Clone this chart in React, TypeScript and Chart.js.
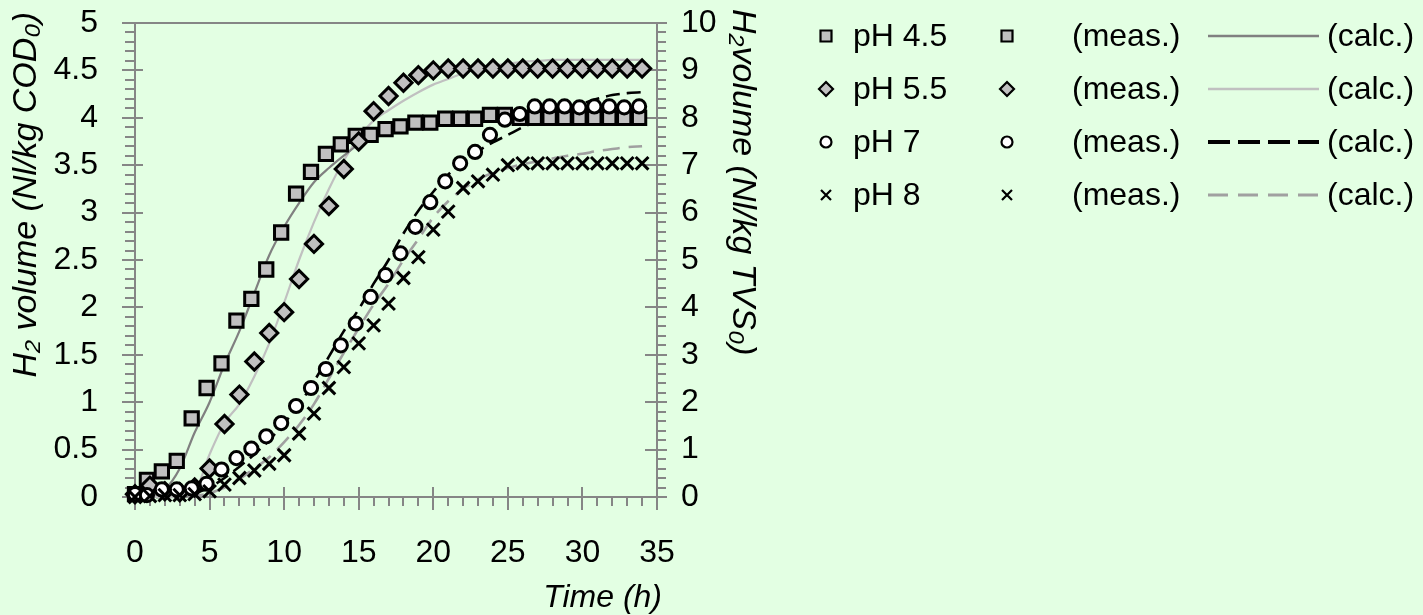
import React, { useEffect, useRef } from "react";
import { Chart, registerables } from "chart.js";

Chart.register(...registerables);

// ---------- data ----------
const seriesLabels = ["pH 4.5", "pH 5.5", "pH 7", "pH 8"];
const measLabel = "(meas.)";
const calcLabel = "(calc.)";

// sampling times (h)
const timesA = [0, 0.8, 1.8, 2.8, 3.8, 4.8, 5.8, 6.8, 7.8, 8.8, 9.8, 10.8, 11.8, 12.8, 13.8, 14.8, 15.8, 16.8, 17.8, 18.8, 19.8, 20.8, 21.8, 22.8, 23.8, 24.8, 25.8, 26.8, 27.8, 28.8, 29.8, 30.8, 31.8, 32.8, 33.8];
const timesB = [0, 1, 2, 3, 4, 5, 6, 7, 8, 9, 10, 11, 12, 13, 14, 15, 16, 17, 18, 19, 20, 21, 22, 23, 24, 25, 26, 27, 28, 29, 30, 31, 32, 33, 34];
const calcTimes = [0, 1, 2, 3, 4, 5, 6, 7, 8, 9, 10, 11, 12, 13, 14, 15, 16, 17, 18, 19, 20, 21, 22, 23, 24, 25, 26, 27, 28, 29, 30, 31, 32, 33, 34];

// measured H2 volume (Nl/kg COD0)
const ph45Meas = [0.03, 0.18, 0.27, 0.38, 0.83, 1.15, 1.41, 1.86, 2.09, 2.40, 2.79, 3.20, 3.43, 3.62, 3.72, 3.81, 3.82, 3.88, 3.91, 3.95, 3.95, 3.99, 3.99, 3.99, 4.03, 4.03, 4.0, 4.0, 4.0, 4.0, 4.0, 4.0, 4.0, 4.0, 4.0];
const ph55Meas = [0.03, 0.12, 0.06, 0.05, 0.10, 0.30, 0.77, 1.08, 1.43, 1.73, 1.95, 2.30, 2.67, 3.07, 3.46, 3.75, 4.07, 4.23, 4.37, 4.45, 4.50, 4.52, 4.52, 4.52, 4.52, 4.52, 4.52, 4.52, 4.52, 4.52, 4.52, 4.52, 4.52, 4.52, 4.52];
const ph7Meas = [0.03, 0.02, 0.08, 0.08, 0.09, 0.14, 0.29, 0.41, 0.51, 0.64, 0.78, 0.96, 1.15, 1.35, 1.60, 1.83, 2.11, 2.34, 2.57, 2.85, 3.11, 3.33, 3.52, 3.64, 3.82, 3.98, 4.04, 4.12, 4.12, 4.12, 4.11, 4.12, 4.12, 4.11, 4.12];
const ph8Meas = [0.0, 0.01, 0.02, 0.02, 0.03, 0.06, 0.13, 0.20, 0.28, 0.35, 0.44, 0.67, 0.88, 1.15, 1.37, 1.62, 1.81, 2.04, 2.31, 2.53, 2.82, 3.01, 3.26, 3.33, 3.40, 3.50, 3.52, 3.52, 3.52, 3.52, 3.52, 3.52, 3.52, 3.52, 3.52];

// calculated curves
const ph45Calc = [0, 0.01, 0.08, 0.3, 0.68, 1.0, 1.4, 1.75, 2.15, 2.55, 2.85, 3.1, 3.32, 3.47, 3.6, 3.72, 3.8, 3.86, 3.9, 3.93, 3.95, 3.97, 3.98, 3.99, 4.0, 4.0, 4.0, 4.0, 4.0, 4.0, 4.0, 4.0, 4.0, 4.0, 4.0];
const ph55Calc = [0, 0, 0, 0.01, 0.06, 0.45, 0.78, 0.98, 1.27, 1.62, 2.05, 2.5, 2.9, 3.25, 3.55, 3.79, 3.97, 4.08, 4.18, 4.27, 4.35, 4.41, 4.47, 4.52, 4.55, 4.57, 4.59, 4.6, 4.61, 4.61, 4.61, 4.61, 4.61, 4.61, 4.61];
const ph7Calc = [0, 0, 0, 0.01, 0.04, 0.1, 0.2, 0.32, 0.45, 0.6, 0.78, 0.97, 1.22, 1.48, 1.75, 1.98, 2.25, 2.5, 2.78, 3.02, 3.22, 3.4, 3.54, 3.65, 3.74, 3.82, 3.9, 3.97, 4.04, 4.1, 4.15, 4.2, 4.24, 4.26, 4.27];
const ph8Calc = [0, 0, 0, 0, 0.01, 0.04, 0.1, 0.19, 0.3, 0.42, 0.58, 0.76, 0.98, 1.25, 1.52, 1.78, 2.03, 2.25, 2.5, 2.72, 2.95, 3.12, 3.25, 3.35, 3.42, 3.47, 3.51, 3.54, 3.57, 3.6, 3.62, 3.65, 3.67, 3.69, 3.7];

const xTitle = "Time (h)";
const yTitle = "H\u2082 volume (Nl/kg COD\u2080)";
const y2Title = "H\u2082volume (Nl/kg TVS\u2080)";

// ---------- styles ----------
const BG = "#e3ffe3";
const AXIS = "#868686";
const SILVER = "#c0c0c0";
const DARK_LINE = "#808080";
const LIGHT_LINE = "#c0c0c0";
const GRAY_DASH = "#a0a0a0";
const FONT = "'Liberation Sans', Arial, Helvetica, sans-serif";

const markerStyles = ["rect", "rectRot", "circle", "crossRot"];
const markerFills = [SILVER, SILVER, "#ffffff", "#000000"];
const markerRadius = [9.4, 8.6, 6.6, 9];
const lineColors = [DARK_LINE, LIGHT_LINE, "#000000", GRAY_DASH];
const lineDashes: number[][] = [[], [], [14, 7], [17, 9]];
const lineWidths = [2.2, 2.2, 2.6, 2.6];
const legendDashes: number[][] = [[], [], [22, 8], [20, 10]];
const legendWidths = [2.6, 2.6, 4, 3.2];

const toPts = (xs: number[], ys: number[]) => ys.map((v, i) => ({ x: xs[i], y: v }));
const fmt = (v: any) => String(Math.round(Number(v) * 10) / 10);

const bgPlugin = {
  id: "bgFill",
  beforeDraw(chart: any) {
    const { ctx, width, height } = chart;
    ctx.save();
    ctx.fillStyle = BG;
    ctx.fillRect(0, 0, width, height);
    ctx.restore();
  },
};

const axesPlugin = {
  id: "excelAxes",
  beforeDatasetsDraw(chart: any) {
    const { ctx, chartArea, scales } = chart;
    const { left, right, top, bottom } = chartArea;
    const sx = scales.x, sy = scales.y, sy2 = scales.y2;
    ctx.save();
    ctx.strokeStyle = AXIS;
    ctx.lineWidth = 2;
    const seg = (x1: number, y1: number, x2: number, y2: number) => {
      ctx.beginPath();
      ctx.moveTo(x1, y1);
      ctx.lineTo(x2, y2);
      ctx.stroke();
    };
    seg(left, top, right, top);
    seg(left, top - 1, left, bottom + 1);
    seg(right, top - 1, right, bottom + 1);
    seg(left - 1, bottom, right + 1, bottom);
    for (let i = 0; i <= 50; i++) {
      const py = Math.round(sy.getPixelForValue(i / 10));
      if (i % 5 === 0) seg(left - 13, py, left + 8, py);
      else seg(left - 10, py, left, py);
    }
    for (let i = 0; i <= 50; i++) {
      const py = Math.round(sy2.getPixelForValue(i / 5));
      if (i % 5 === 0) seg(right - 12, py, right + 10, py);
      else seg(right, py, right + 9, py);
    }
    for (let i = 0; i <= 35; i++) {
      const px = Math.round(sx.getPixelForValue(i));
      if (i % 5 === 0) seg(px, bottom - 10, px, bottom + 13);
      else seg(px, bottom, px, bottom + 9);
    }
    ctx.restore();
  },
};

function drawMarker(ctx: CanvasRenderingContext2D, kind: number, x: number, y: number) {
  ctx.save();
  ctx.lineWidth = 2.2;
  ctx.strokeStyle = "#000";
  ctx.fillStyle = markerFills[kind];
  ctx.beginPath();
  if (kind === 0) {
    ctx.rect(x - 5.5, y - 5.5, 11, 11);
    ctx.fill();
    ctx.stroke();
  } else if (kind === 1) {
    ctx.moveTo(x - 7, y);
    ctx.lineTo(x, y - 7);
    ctx.lineTo(x + 7, y);
    ctx.lineTo(x, y + 7);
    ctx.closePath();
    ctx.fill();
    ctx.stroke();
  } else if (kind === 2) {
    ctx.arc(x, y, 5.5, 0, Math.PI * 2);
    ctx.fill();
    ctx.stroke();
  } else {
    ctx.moveTo(x - 5, y - 5);
    ctx.lineTo(x + 5, y + 5);
    ctx.moveTo(x + 5, y - 5);
    ctx.lineTo(x - 5, y + 5);
    ctx.stroke();
  }
  ctx.restore();
}

const legendPlugin = {
  id: "excelLegend",
  afterDraw(chart: any) {
    const ctx: CanvasRenderingContext2D = chart.ctx;
    const rowY = [36, 89, 142, 195];
    ctx.save();
    ctx.font = `32px ${FONT}`;
    ctx.fillStyle = "#000";
    ctx.textBaseline = "middle";
    ctx.textAlign = "left";
    seriesLabels.forEach((lab, k) => {
      const y = rowY[k];
      drawMarker(ctx, k, 826, y);
      ctx.fillText(lab, 853, y + 1);
      drawMarker(ctx, k, 1007, y);
      ctx.fillText(measLabel, 1072, y + 1);
      ctx.save();
      ctx.strokeStyle = lineColors[k];
      ctx.lineWidth = legendWidths[k];
      ctx.setLineDash(legendDashes[k]);
      ctx.beginPath();
      ctx.moveTo(1208, y);
      ctx.lineTo(1319, y);
      ctx.stroke();
      ctx.restore();
      ctx.fillText(calcLabel, 1327, y + 1);
    });
    ctx.restore();
  },
};

const titlesPlugin = {
  id: "axisTitles",
  afterDraw(chart: any) {
    const ctx: CanvasRenderingContext2D = chart.ctx;
    ctx.save();
    ctx.fillStyle = "#000";
    ctx.font = `italic 34px ${FONT}`;
    ctx.textBaseline = "middle";
    // left
    ctx.save();
    ctx.translate(27, 12);
    ctx.rotate(-Math.PI / 2);
    ctx.textAlign = "right";
    ctx.fillText(yTitle, 0, 0);
    ctx.restore();
    // right
    ctx.save();
    ctx.translate(742, 9);
    ctx.rotate(Math.PI / 2);
    ctx.textAlign = "left";
    ctx.fillText(y2Title, 0, 0);
    ctx.restore();
    // bottom
    ctx.font = `italic 32px ${FONT}`;
    ctx.textAlign = "right";
    ctx.fillText(xTitle, 662, 598);
    ctx.restore();
  },
};

export default function App() {
  const ref = useRef<HTMLCanvasElement | null>(null);
  useEffect(() => {
    document.body.style.margin = "0";
    document.body.style.background = BG;
    if (!ref.current) return;
    const measSets = [
      toPts(timesA, ph45Meas),
      toPts(timesB, ph55Meas),
      toPts(timesA, ph7Meas),
      toPts(timesB, ph8Meas),
    ];
    const calcSets = [ph45Calc, ph55Calc, ph7Calc, ph8Calc].map((c) => toPts(calcTimes, c));
    const datasets: any[] = [];
    calcSets.forEach((d, k) => {
      datasets.push({
        label: `${seriesLabels[k]} ${calcLabel}`,
        data: d,
        showLine: true,
        borderColor: lineColors[k],
        borderWidth: lineWidths[k],
        borderDash: lineDashes[k],
        pointRadius: 0,
        cubicInterpolationMode: "monotone",
        clip: false,
        order: 10 + k,
      });
    });
    measSets.forEach((d, k) => {
      datasets.push({
        label: `${seriesLabels[k]} ${measLabel}`,
        data: d,
        showLine: false,
        pointStyle: markerStyles[k],
        pointRadius: markerRadius[k],
        pointHoverRadius: markerRadius[k],
        pointBackgroundColor: markerFills[k],
        pointBorderColor: "#000",
        pointBorderWidth: 3,
        clip: false,
        order: 4 - k,
      });
    });
    const tickFont = { family: FONT, size: 32 };
    const chart = new Chart(ref.current, {
      type: "scatter",
      data: { datasets },
      options: {
        animation: false,
        responsive: false,
        devicePixelRatio: 1,
        layout: { autoPadding: false, padding: { top: 23, right: 656, left: 0, bottom: 0 } },
        plugins: { legend: { display: false }, tooltip: { enabled: false } },
        scales: {
          x: {
            type: "linear",
            position: "bottom",
            min: 0,
            max: 35,
            ticks: { stepSize: 5, font: tickFont, color: "#000", padding: 0, maxRotation: 0, autoSkip: false, callback: fmt },
            grid: { display: false, drawTicks: true, tickLength: 37 },
            border: { display: false },
            afterFit: (s: any) => { s.height = 118; },
          },
          y: {
            type: "linear",
            position: "left",
            min: 0,
            max: 5,
            ticks: { stepSize: 0.5, font: tickFont, color: "#000", padding: 0, autoSkip: false, callback: fmt },
            grid: { display: false, drawTicks: true, tickLength: 37 },
            border: { display: false },
            afterFit: (s: any) => { s.width = 135; },
          },
          y2: {
            type: "linear",
            position: "right",
            min: 0,
            max: 10,
            ticks: { stepSize: 1, font: tickFont, color: "#000", padding: 0, autoSkip: false, callback: fmt },
            grid: { display: false, drawTicks: true, tickLength: 24 },
            border: { display: false },
            afterFit: (s: any) => { s.width = 110; },
          },
        },
      } as any,
      plugins: [bgPlugin, axesPlugin, legendPlugin, titlesPlugin],
    });
    return () => chart.destroy();
  }, []);
  return (
    <div style={{ width: 1423, height: 615, background: BG }}>
      <canvas ref={ref} width={1423} height={615} style={{ display: "block" }} />
    </div>
  );
}
